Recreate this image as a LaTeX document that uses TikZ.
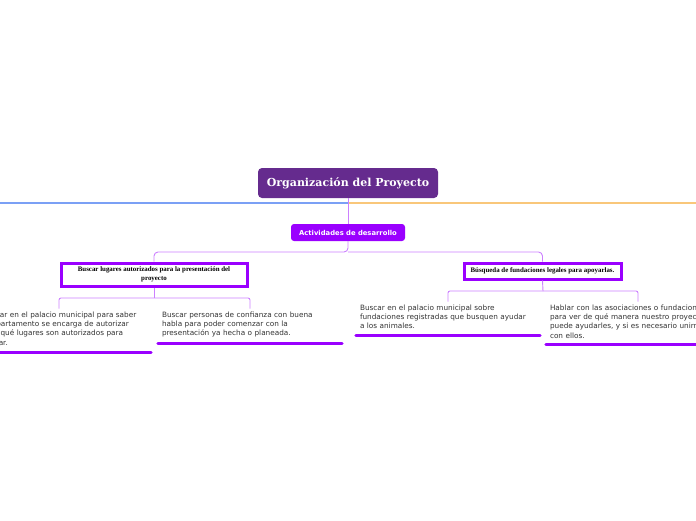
\documentclass[tikz,border=0pt]{standalone}
\usepackage{fontspec}
\setmainfont{DejaVu Sans}
\newfontfamily\rootfont{DejaVu Serif}
\newfontfamily\boxfont{Liberation Serif}
\definecolor{rootpurple}{HTML}{652B8E}
\definecolor{vivid}{HTML}{9A00FF}
\definecolor{conncol}{HTML}{CC80FF}
\definecolor{lblue}{HTML}{7BA0F5}
\definecolor{lorange}{HTML}{F9C77A}
\definecolor{txt}{HTML}{333333}
\tikzset{
  rootnode/.style={fill=rootpurple, rounded corners=4pt, minimum width=180pt, minimum height=30pt, text=white, font=\rootfont\bfseries\fontsize{11}{13}\selectfont, inner sep=0pt},
  actnode/.style={fill=vivid, rounded corners=3pt, minimum width=114pt, minimum height=17pt, text=white, font=\bfseries\fontsize{6.8}{8}\selectfont, inner sep=0pt},
  subnode/.style={draw=vivid, line width=3pt, fill=white, inner sep=0pt, align=center, font=\boxfont\bfseries\fontsize{6.9}{8.5}\selectfont},
  leafnode/.style={minimum width=184pt, text width=176pt, inner xsep=4pt, inner ysep=3pt, align=left, text=txt, font=\fontsize{7.3}{9.3}\selectfont, anchor=north},
  conn/.style={draw=conncol, line width=0.9pt},
  uline/.style={draw=vivid, line width=3pt, line cap=round},
}
\begin{document}
\begin{tikzpicture}[x=1pt,y=-1pt]
\useasboundingbox (0,0) rectangle (696,520);
\clip (0,0) rectangle (696,520);
\fill[white] (0,0) rectangle (696,520);
% root
\node[rootnode] (root) at (348,183) {Organización del Proyecto};
\coordinate (L) at (0,203);
\coordinate (J) at (348,203);
\coordinate (R) at (696,203);
\draw[lblue, line width=1.6pt] (L) -- (J);
\draw[lorange, line width=1.6pt] (J) -- (R);
% actividades
\node[actnode] (act) at (348,232.5) {Actividades de desarrollo};
\draw[conn] (root.south) -- (act.north);
% sub boxes
\node[subnode, minimum width=186pt, minimum height=23pt] (b1) at (154,274.5) {Buscar lugares autorizados para la presentación del\\proyecto};
\node[subnode, minimum width=157pt, minimum height=16pt] (b2) at (542.5,271) {Búsqueda de fundaciones legales para apoyarlas.};
\coordinate (bar) at (348,252);
\draw[conn, rounded corners=4pt] (act.south) -- (bar) -| (b1.north);
\draw[conn, rounded corners=4pt] (bar) -| (b2.north);
% leaves of b1
\node[leafnode] (l1) at (59,308.5) {Investigar en el palacio municipal para saber\\qué departamento se encarga de autorizar\\y saber qué lugares son autorizados para\\presentar.};
\node[leafnode] (l2) at (250,308.5) {Buscar personas de confianza con buena\\habla para poder comenzar con la\\presentación ya hecha o planeada.};
\coordinate (c1) at (154,298);
\draw[conn] (b1.south) -- (c1);
\draw[conn, rounded corners=2pt] (c1) -| (l1.north);
\draw[conn, rounded corners=2pt] (c1) -| (l2.north);
\draw[uline] ([yshift=-3pt]l1.south west) -- ([yshift=-3pt]l1.south east);
\draw[uline] ([yshift=-3pt]l2.south west) -- ([yshift=-3pt]l2.south east);
% leaves of b2
\node[leafnode] (l3) at (448,301.5) {Buscar en el palacio municipal sobre\\fundaciones registradas que busquen ayudar\\a los animales.};
\node[leafnode] (l4) at (638,301.5) {Hablar con las asociaciones o fundaciones\\para ver de qué manera nuestro proyecto\\puede ayudarles, y si es necesario unirnos\\con ellos.};
\coordinate (c2) at (543,291);
\draw[conn] (b2.south) -- (c2);
\draw[conn, rounded corners=2pt] (c2) -| (l3.north);
\draw[conn, rounded corners=2pt] (c2) -| (l4.north);
\draw[uline] ([yshift=-3pt]l3.south west) -- ([yshift=-3pt]l3.south east);
\draw[uline] ([yshift=-3pt]l4.south west) -- ([yshift=-3pt]l4.south east);
\end{tikzpicture}
\end{document}
